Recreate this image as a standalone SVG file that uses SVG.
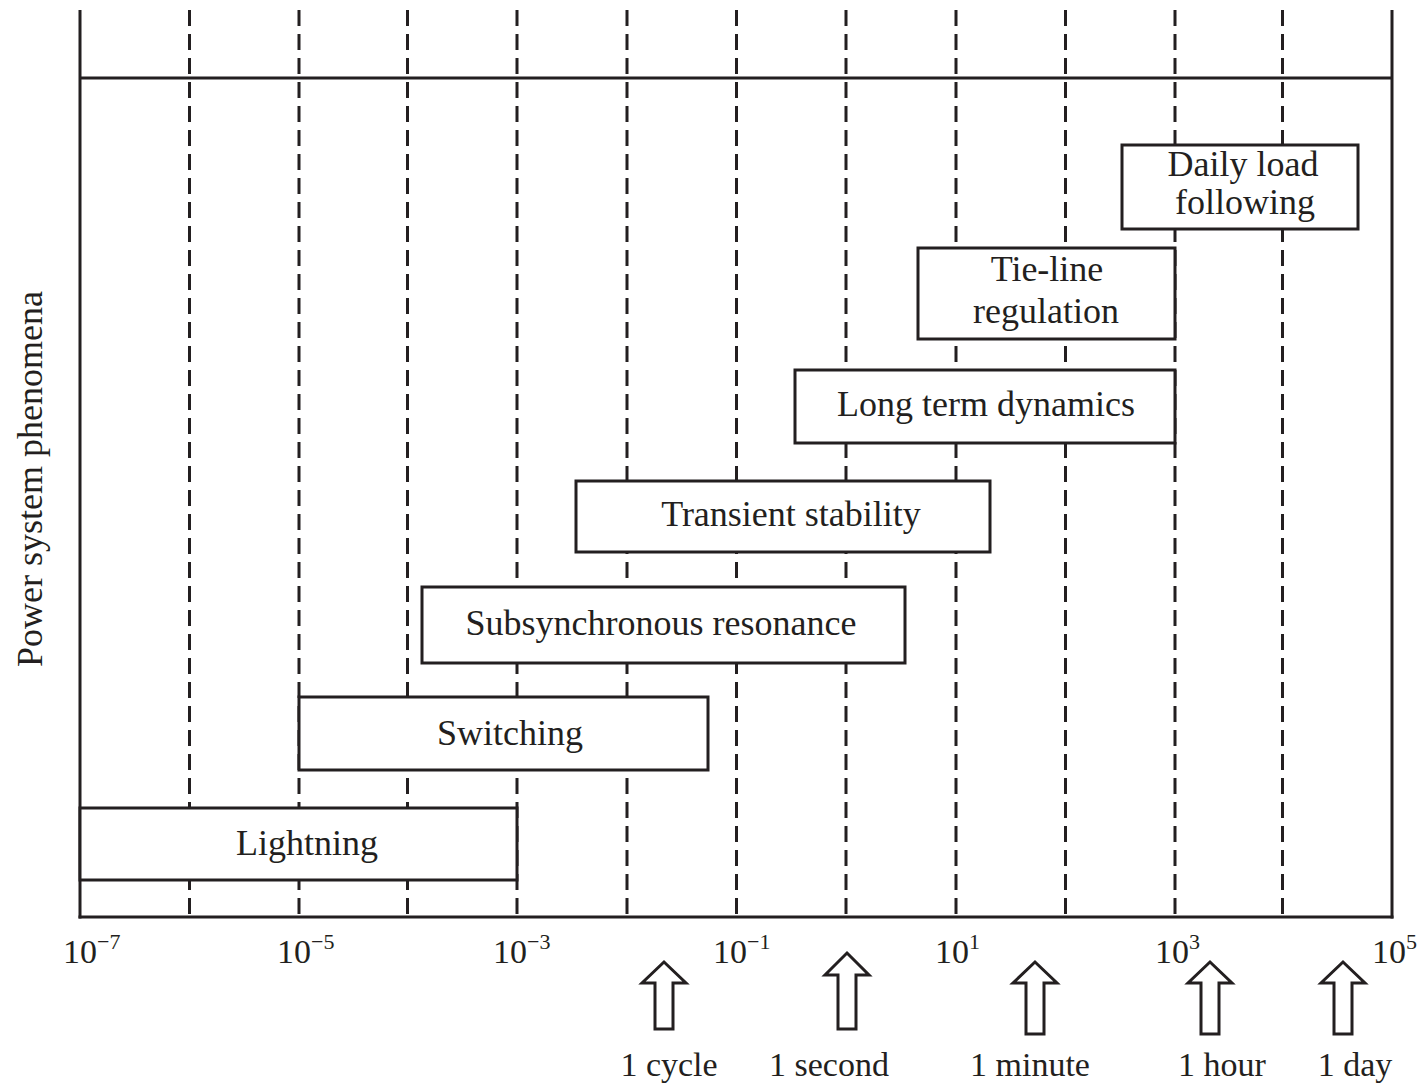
<svg xmlns="http://www.w3.org/2000/svg" width="1421" height="1083" viewBox="0 0 1421 1083">
<style>
.ln{stroke:#231f20;stroke-width:3;fill:none}
.dash{stroke:#231f20;stroke-width:3;stroke-dasharray:16 8;fill:none}
.box{stroke:#231f20;stroke-width:3;fill:#fff}
.arr{stroke:#231f20;stroke-width:3;fill:#fff;stroke-linejoin:miter}
.t{font-family:"Liberation Serif","Times New Roman",serif;fill:#231f20}
.bl{font-size:36px;text-anchor:middle}
.tk{font-size:34px}
.sup{font-size:22px}
.lb{font-size:34px;text-anchor:middle}
</style>
<rect x="0" y="0" width="1421" height="1083" fill="#fff"/>
<g id="grid">
<line class="dash" x1="189.5" y1="10" x2="189.5" y2="917"/>
<line class="dash" x1="299" y1="10" x2="299" y2="917"/>
<line class="dash" x1="407.5" y1="10" x2="407.5" y2="917"/>
<line class="dash" x1="517" y1="10" x2="517" y2="917"/>
<line class="dash" x1="627" y1="10" x2="627" y2="917"/>
<line class="dash" x1="736.5" y1="10" x2="736.5" y2="917"/>
<line class="dash" x1="846" y1="10" x2="846" y2="917"/>
<line class="dash" x1="956" y1="10" x2="956" y2="917"/>
<line class="dash" x1="1065.5" y1="10" x2="1065.5" y2="917"/>
<line class="dash" x1="1175" y1="10" x2="1175" y2="917"/>
<line class="dash" x1="1282.5" y1="10" x2="1282.5" y2="917"/>
</g>
<g id="axes">
<line class="ln" x1="80" y1="10" x2="80" y2="918.5"/>
<line class="ln" x1="1392" y1="10" x2="1392" y2="918.5"/>
<line class="ln" x1="80" y1="78" x2="1392" y2="78"/>
<line class="ln" x1="78.5" y1="917" x2="1393.5" y2="917"/>
</g>
<text class="t" font-size="36" text-anchor="middle" transform="translate(42,479) rotate(-90)">Power system phenomena</text>
<g id="node-lightning">
<rect class="box" x="80" y="808" width="437" height="72"/>
<text class="t bl" x="307" y="855">Lightning</text>
</g>
<g id="node-switching">
<rect class="box" x="299" y="697" width="409" height="73"/>
<text class="t bl" x="510" y="745">Switching</text>
</g>
<g id="node-subsync">
<rect class="box" x="422" y="587" width="483" height="76"/>
<text class="t bl" x="661" y="635">Subsynchronous resonance</text>
</g>
<g id="node-transient">
<rect class="box" x="576" y="481" width="414" height="71"/>
<text class="t bl" x="791" y="526">Transient stability</text>
</g>
<g id="node-longterm">
<rect class="box" x="795" y="370" width="380" height="73"/>
<text class="t bl" x="986" y="416">Long term dynamics</text>
</g>
<g id="node-tieline">
<rect class="box" x="918" y="248" width="257" height="91"/>
<text class="t bl" x="1047" y="281">Tie-line</text>
<text class="t bl" x="1046" y="323">regulation</text>
</g>
<g id="node-daily">
<rect class="box" x="1122" y="145" width="236" height="84"/>
<text class="t bl" x="1243" y="176" font-size="34">Daily load</text>
<text class="t bl" x="1245" y="214" font-size="34">following</text>
</g>
<g id="ticks">
<text class="t tk" x="63" y="963">10<tspan class="sup" dy="-14">−7</tspan></text>
<text class="t tk" x="277" y="963">10<tspan class="sup" dy="-14">−5</tspan></text>
<text class="t tk" x="493" y="963">10<tspan class="sup" dy="-14">−3</tspan></text>
<text class="t tk" x="713" y="963">10<tspan class="sup" dy="-14">−1</tspan></text>
<text class="t tk" x="935" y="963">10<tspan class="sup" dy="-14">1</tspan></text>
<text class="t tk" x="1155" y="963">10<tspan class="sup" dy="-14">3</tspan></text>
<text class="t tk" x="1372" y="963">10<tspan class="sup" dy="-14">5</tspan></text>
</g>
<g id="connectors">
<path class="arr" d="M664 962 L686 983 L673 983 L673 1029 L655 1029 L655 983 L642 983 Z"/>
<path class="arr" d="M847 953 L869 975 L856 975 L856 1029 L838 1029 L838 975 L825 975 Z"/>
<path class="arr" d="M1035 962 L1057 983 L1044 983 L1044 1034 L1026 1034 L1026 983 L1013 983 Z"/>
<path class="arr" d="M1210 962 L1232 983 L1219 983 L1219 1034 L1201 1034 L1201 983 L1188 983 Z"/>
<path class="arr" d="M1343 962 L1365 983 L1352 983 L1352 1034 L1334 1034 L1334 983 L1321 983 Z"/>
</g>
<g id="time-labels">
<text class="t lb" x="669" y="1076">1 cycle</text>
<text class="t lb" x="829" y="1076">1 second</text>
<text class="t lb" x="1030" y="1076">1 minute</text>
<text class="t lb" x="1222" y="1076">1 hour</text>
<text class="t lb" x="1355" y="1076">1 day</text>
</g>
</svg>
